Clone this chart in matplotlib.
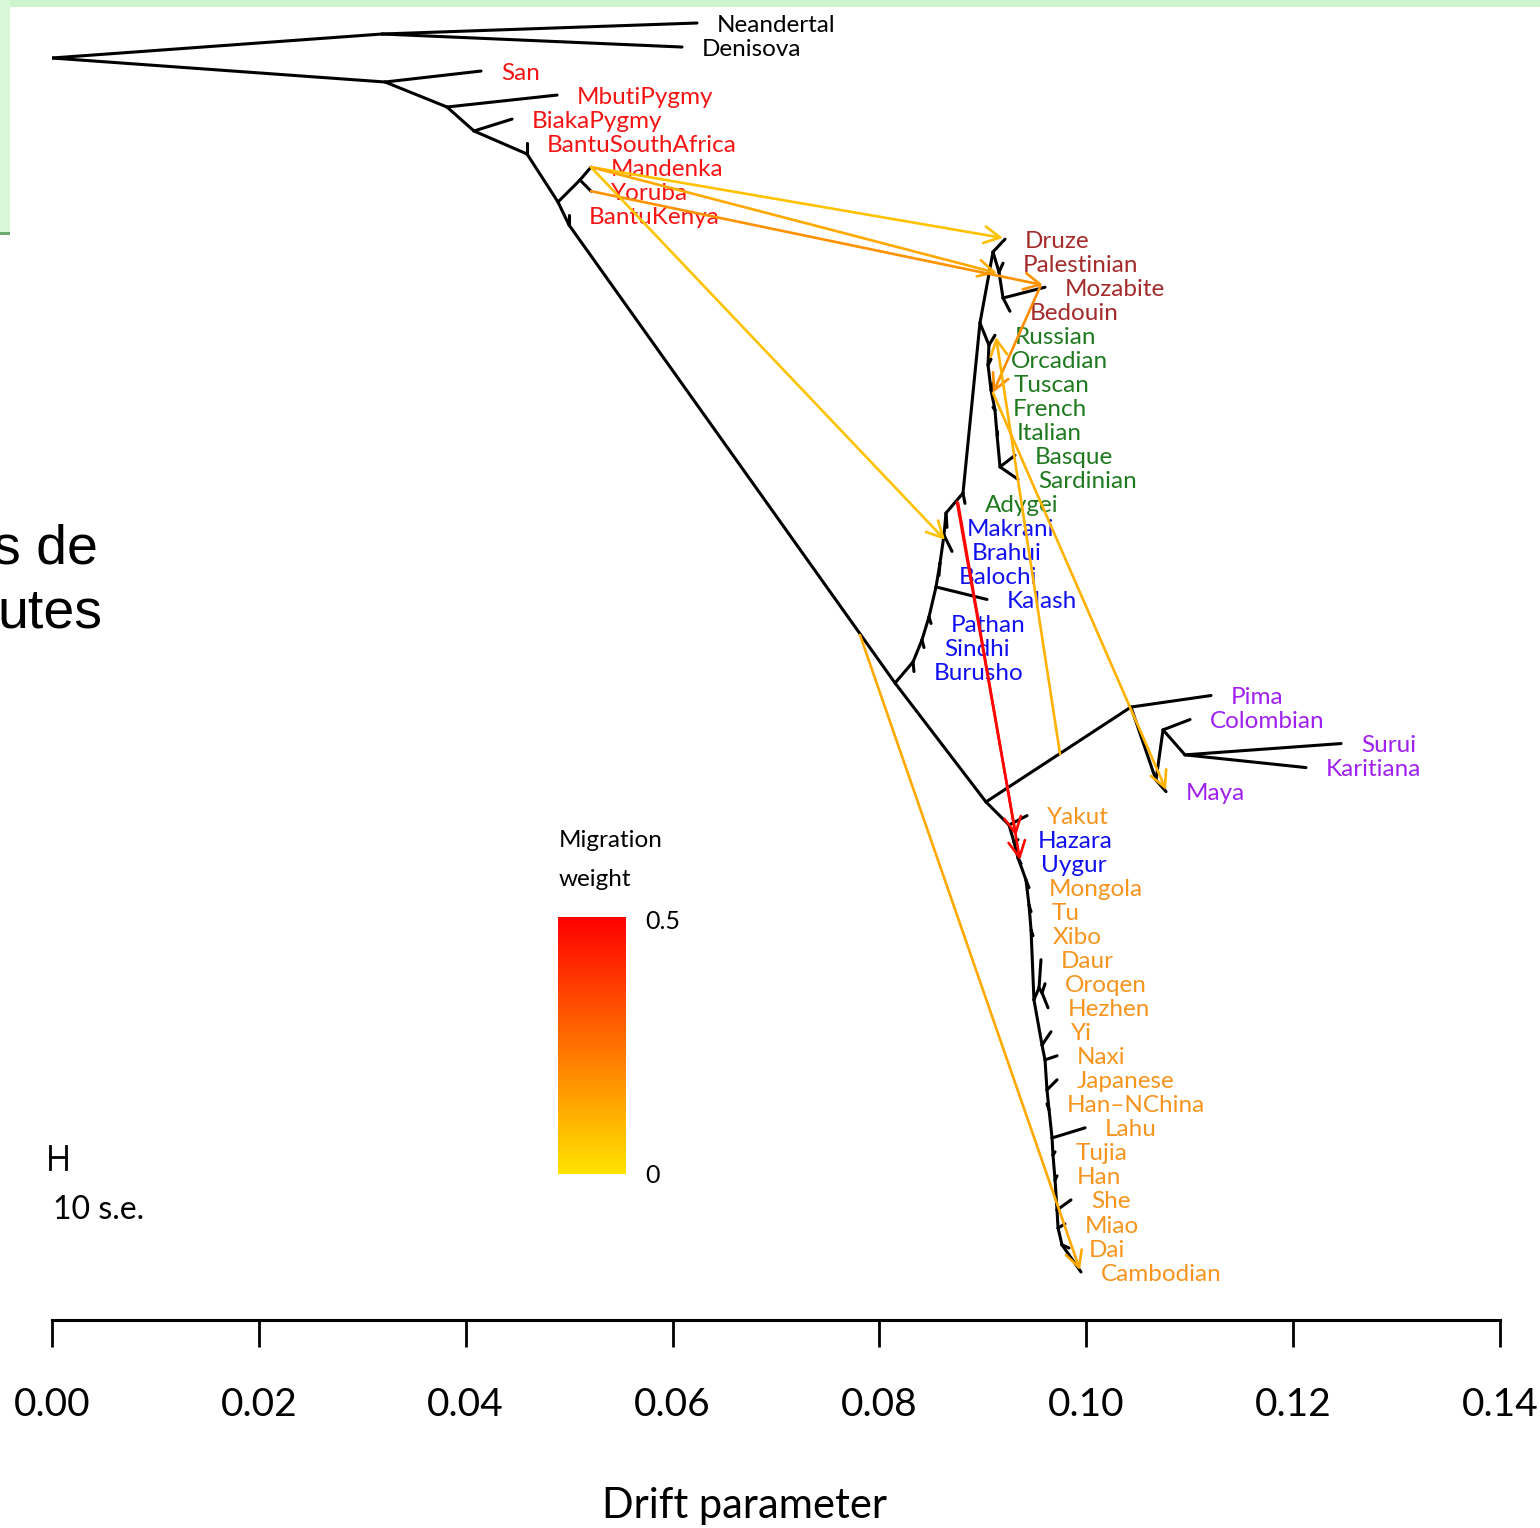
import numpy as np
import matplotlib
matplotlib.use("Agg")
import matplotlib.pyplot as plt
from matplotlib.collections import LineCollection
from matplotlib.patches import Rectangle
from matplotlib import colors as mcolors

plt.rcParams['font.family'] = ['Lato', 'DejaVu Sans']

# ---- data -------------------------------------------------------------
# leaves, top to bottom (y of a leaf = its index)
leaf_names = ["Neandertal", "Denisova", "San", "MbutiPygmy", "BiakaPygmy",
              "BantuSouthAfrica", "Mandenka", "Yoruba", "BantuKenya",
              "Druze", "Palestinian", "Mozabite", "Bedouin",
              "Russian", "Orcadian", "Tuscan", "French", "Italian", "Basque",
              "Sardinian", "Adygei",
              "Makrani", "Brahui", "Balochi", "Kalash", "Pathan", "Sindhi", "Burusho",
              "Pima", "Colombian", "Surui", "Karitiana", "Maya",
              "Yakut", "Hazara", "Uygur", "Mongola", "Tu", "Xibo", "Daur", "Oroqen",
              "Hezhen", "Yi", "Naxi", "Japanese", "Han\u2013NChina", "Lahu", "Tujia",
              "Han", "She", "Miao", "Dai", "Cambodian"]
leaf_drift = [0.06236, 0.06091, 0.04148, 0.04883, 0.04448,
              0.04593, 0.05211, 0.05211, 0.04999,
              0.09214, 0.09195, 0.09601, 0.09262,
              0.09117, 0.09079, 0.09098, 0.09098, 0.09137, 0.09311,
              0.09340, 0.08827,
              0.08653, 0.08702, 0.08576, 0.09040, 0.08499, 0.08431, 0.08334,
              0.11206, 0.11003, 0.12463, 0.12124, 0.10771,
              0.09427, 0.09340, 0.09369, 0.09446, 0.09466, 0.09485, 0.09562, 0.09601,
              0.09630, 0.09659, 0.09717, 0.09717, 0.09620, 0.09988, 0.09698,
              0.09717, 0.09852, 0.09794, 0.09833, 0.09949]
leaf_group = (["archaic"] * 2 + ["africa"] * 7 + ["mideast"] * 4 + ["europe"] * 8 +
              ["southasia"] * 7 + ["america"] * 5 + ["eastasia"] + ["southasia"] * 2 +
              ["eastasia"] * 17)
group_color = {"archaic": "black", "africa": "#f51414", "mideast": "#a52a2a",
               "europe": "#1f7a1f", "southasia": "#1010f0", "america": "#a020f0",
               "eastasia": "#f7941d"}

# internal nodes: drift, vertical position
node_names = ["root", "arch", "A", "B", "C", "D", "E", "F", "G", "I", "H",
              "S1", "S2", "S3", "S4", "S5", "S6", "S7", "S8",
              "ME0", "ME1", "ME2", "ME3", "EU1", "EU2", "EU3", "EU4", "EU5", "EU6",
              "Am0", "M1", "M2", "M3",
              "Y", "E1", "E2", "E3", "E4", "E5", "E6", "C1", "C2", "E7", "E8", "E9",
              "E10", "E11", "E12", "E13", "E14", "E15", "E16"]
node_drift = [0.0, 0.03191, 0.03220, 0.03819, 0.04080, 0.04593, 0.04892, 0.05105,
              0.04999, 0.08151, 0.09030,
              0.08325, 0.08411, 0.08479, 0.08547, 0.08586, 0.08624, 0.08644, 0.08808,
              0.08972, 0.09098, 0.09156, 0.09195, 0.09059, 0.09050, 0.09079, 0.09117,
              0.09137, 0.09166,
              0.10432, 0.10674, 0.10742, 0.10954,
              0.09253, 0.09301, 0.09340, 0.09417, 0.09446, 0.09466, 0.09494, 0.09543,
              0.09572, 0.09572, 0.09601, 0.09620, 0.09640, 0.09669, 0.09678, 0.09698,
              0.09717, 0.09727, 0.09765]
node_y = [1.457, 0.458, 2.456, 3.497, 4.496, 5.454, 7.452, 6.536, 8.410, 27.48, 32.43,
          26.60, 25.69, 24.73, 23.48, 22.48, 21.32, 20.40, 19.57,
          12.49, 9.53, 10.37, 11.45, 13.41, 14.24, 15.28, 16.11, 17.15, 18.48,
          28.48, 31.52, 29.43, 30.47,
          33.39, 34.10, 34.76, 35.68, 36.72, 37.76, 40.67, 40.17, 40.38, 42.55,
          43.17, 44.42, 45.25, 46.42, 47.13, 48.17, 49.42, 50.17, 50.87]

edges = [("root", "arch"), ("arch", "Neandertal"), ("arch", "Denisova"),
         ("root", "A"), ("A", "San"), ("A", "B"), ("B", "MbutiPygmy"), ("B", "C"),
         ("C", "BiakaPygmy"), ("C", "D"), ("D", "BantuSouthAfrica"), ("D", "E"),
         ("E", "F"), ("F", "Mandenka"), ("F", "Yoruba"), ("E", "G"),
         ("G", "BantuKenya"), ("G", "I"), ("I", "S1"), ("I", "H"),
         ("S1", "Burusho"), ("S1", "S2"), ("S2", "Sindhi"), ("S2", "S3"),
         ("S3", "Pathan"), ("S3", "S4"), ("S4", "Kalash"), ("S4", "S5"),
         ("S5", "Balochi"), ("S5", "S6"), ("S6", "Brahui"), ("S6", "S7"),
         ("S7", "Makrani"), ("S7", "S8"), ("S8", "Adygei"), ("S8", "ME0"),
         ("ME0", "ME1"), ("ME1", "Druze"), ("ME1", "ME2"), ("ME2", "Palestinian"),
         ("ME2", "ME3"), ("ME3", "Mozabite"), ("ME3", "Bedouin"),
         ("ME0", "EU1"), ("EU1", "Russian"), ("EU1", "EU2"), ("EU2", "Orcadian"),
         ("EU2", "EU3"), ("EU3", "Tuscan"), ("EU3", "EU4"), ("EU4", "French"),
         ("EU4", "EU5"), ("EU5", "Italian"), ("EU5", "EU6"), ("EU6", "Basque"),
         ("EU6", "Sardinian"),
         ("H", "Am0"), ("Am0", "Pima"), ("Am0", "M1"), ("M1", "Maya"), ("M1", "M2"),
         ("M2", "Colombian"), ("M2", "M3"), ("M3", "Surui"), ("M3", "Karitiana"),
         ("H", "Y"), ("Y", "Yakut"), ("Y", "E1"), ("E1", "Hazara"), ("E1", "E2"),
         ("E2", "Uygur"), ("E2", "E3"), ("E3", "Mongola"), ("E3", "E4"),
         ("E4", "Tu"), ("E4", "E5"), ("E5", "Xibo"), ("E5", "E6"), ("E6", "C1"),
         ("C1", "Daur"), ("C1", "C2"), ("C2", "Oroqen"), ("C2", "Hezhen"),
         ("E6", "E7"), ("E7", "Yi"), ("E7", "E8"), ("E8", "Naxi"), ("E8", "E9"),
         ("E9", "Japanese"), ("E9", "E10"), ("E10", "Han\u2013NChina"), ("E10", "E11"),
         ("E11", "Lahu"), ("E11", "E12"), ("E12", "Tujia"), ("E12", "E13"),
         ("E13", "Han"), ("E13", "E14"), ("E14", "She"), ("E14", "E15"),
         ("E15", "Miao"), ("E15", "E16"), ("E16", "Dai"), ("E16", "Cambodian")]

# migration edges: source (drift, y) -> target (drift, y), weight
mig_src_x = [0.05211, 0.05211, 0.05211, 0.05211, 0.09553, 0.09746, 0.09098, 0.07812, 0.08750, 0.08760]
mig_src_y = [6.00, 6.00, 7.00, 6.00, 10.99, 30.43, 15.40, 25.48, 19.94, 19.98]
mig_dst_x = [0.09195, 0.09137, 0.09581, 0.08634, 0.09098, 0.09127, 0.10771, 0.09939, 0.09320, 0.09359]
mig_dst_y = [8.95, 10.41, 10.91, 21.52, 15.40, 13.07, 31.93, 51.92, 33.85, 34.85]
mig_weight = [0.075, 0.13, 0.18, 0.075, 0.19, 0.11, 0.11, 0.13, 0.48, 0.49]

ticks = [0.00, 0.02, 0.04, 0.06, 0.08, 0.10, 0.12, 0.14]
se10 = 0.00155


def mig_color(w):
    # yellow (w=0) to red (w=0.5), as in the treemix heat palette
    h = 0.149 * (1.0 - min(w, 0.5) / 0.5)
    return mcolors.hsv_to_rgb([h, 1.0, 1.0])


# ---- figure -----------------------------------------------------------
W, Hh = 1540, 1528
fig = plt.figure(figsize=(W / 100, Hh / 100), dpi=100)

# bits of the slide behind the picture
fig.patches.append(Rectangle((0, 1 - 7 / Hh), 1, 7 / Hh, transform=fig.transFigure,
                             facecolor="#cdf5cd", edgecolor="none", zorder=0))
fig.patches.append(Rectangle((0, 1 - 232 / Hh), 10 / W, 232 / Hh, transform=fig.transFigure,
                             facecolor="#d9f7d9", edgecolor="none", zorder=0))
fig.patches.append(Rectangle((0, 1 - 235 / Hh), 10 / W, 3 / Hh, transform=fig.transFigure,
                             facecolor="#6fa86f", edgecolor="none", zorder=0))
fig.text(-7 / W, 1 - 563 / Hh, "s de", fontsize=40, family=["Liberation Sans", "DejaVu Sans"],
         va="baseline", ha="left")
fig.text(-3 / W, 1 - 628 / Hh, "utes", fontsize=40, family=["Liberation Sans", "DejaVu Sans"],
         va="baseline", ha="left")

ax = fig.add_axes([52 / W, 208 / Hh, 1448 / W, 1320 / Hh])
ax.patch.set_alpha(0)
ax.set_xlim(0, 0.14)
ax.set_ylim(54.0, -0.958)

pos = {}
for i, n in enumerate(leaf_names):
    pos[n] = (leaf_drift[i], float(i))
for n, x, y in zip(node_names, node_drift, node_y):
    pos[n] = (x, y)

segs = [[pos[a], pos[b]] for a, b in edges]
ax.add_collection(LineCollection(segs, colors="black", linewidths=2.2,
                                 capstyle="round", joinstyle="round", zorder=2))

for i, n in enumerate(leaf_names):
    ax.annotate(n, xy=(leaf_drift[i], i), xytext=(14.5, -1.5), textcoords="offset points",
                ha="left", va="center", fontsize=17.5,
                color=group_color[leaf_group[i]], zorder=2)

for sx, sy, dx, dy, w in zip(mig_src_x, mig_src_y, mig_dst_x, mig_dst_y, mig_weight):
    ax.annotate("", xy=(dx, dy), xytext=(sx, sy),
                arrowprops=dict(arrowstyle="->,head_length=1.15,head_width=0.6",
                                mutation_scale=10, color=mig_color(w), lw=1.9,
                                shrinkA=0, shrinkB=0), zorder=3)

# migration weight legend
ax.text(0.04902, 34.05, "Migration", fontsize=17.5, ha="left", va="center")
ax.text(0.04902, 35.64, "weight", fontsize=17.5, ha="left", va="center")
grad = np.array([mig_color(w) for w in np.linspace(0.5, 0.0, 200)])[:, None, :]
ax.imshow(grad, extent=(0.04892, 0.05540, 47.92, 37.22), aspect="auto",
          origin="upper", interpolation="bilinear", zorder=1)
ax.text(0.05733, 37.40, "0.5", fontsize=18, ha="left", va="center")
ax.text(0.05733, 47.98, "0", fontsize=18, ha="left", va="center")

# scale bar, 10 standard errors
x0 = -0.0002
ax.plot([x0, x0 + se10], [47.22, 47.22], color="black", lw=2.0, clip_on=False)
ax.plot([x0, x0], [46.75, 47.70], color="black", lw=2.0, clip_on=False)
ax.plot([x0 + se10, x0 + se10], [46.75, 47.70], color="black", lw=2.0, clip_on=False)
ax.text(0.0001, 49.40, "10 s.e.", fontsize=23, ha="left", va="center")

# axis
for s in ["top", "left", "right"]:
    ax.spines[s].set_visible(False)
ax.spines["bottom"].set_bounds(0, 0.14)
ax.spines["bottom"].set_linewidth(2.2)
ax.set_yticks([])
ax.set_xticks(ticks)
ax.set_xticklabels(["%.2f" % t for t in ticks])
ax.tick_params(axis="x", direction="out", length=19.5, width=2.0, pad=29, labelsize=28)
ax.set_xlabel("Drift parameter", fontsize=30)
ax.xaxis.set_label_coords((744 - 52) / 1448, -(1506 - 1320) / 1320)
ax.xaxis.label.set_va("center")

fig.savefig("out.png", dpi=100)
